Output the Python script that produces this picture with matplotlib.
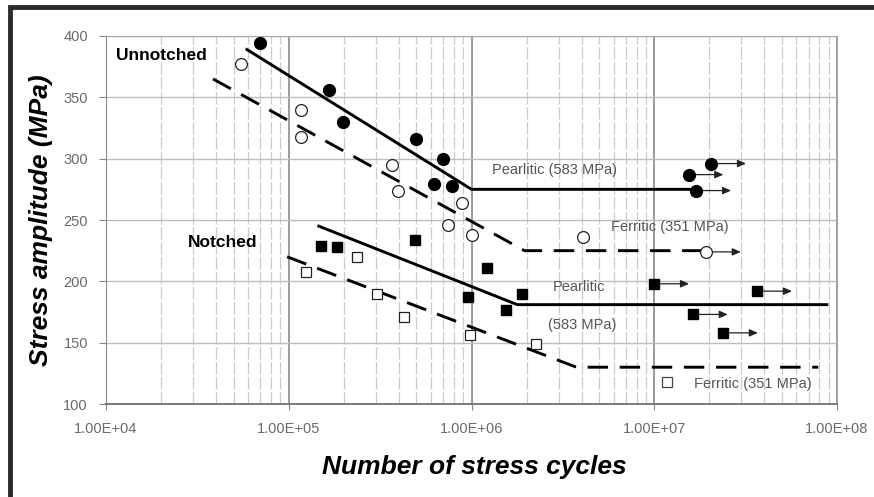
import numpy as np
import matplotlib
matplotlib.use("Agg")
import matplotlib.pyplot as plt
from matplotlib.ticker import FixedLocator, FuncFormatter, LogLocator, NullFormatter
from matplotlib.patches import Rectangle

# ---------------- data ----------------
# Unnotched pearlitic (filled circles)
up_x = [6.95e4, 1.67e5, 1.97e5, 5.0e5, 6.95e5, 6.2e5, 7.8e5]
up_y = [394, 356, 330, 316, 300, 279, 278]
up_run_x = [2.05e7, 1.54e7, 1.7e7]
up_run_y = [296, 287, 274]
# Unnotched ferritic (open circles)
uf_x = [5.5e4, 1.16e5, 1.16e5, 3.66e5, 3.95e5, 8.9e5, 7.4e5, 1.0e6, 4.1e6]
uf_y = [377, 340, 318, 295, 274, 264, 246, 238, 236]
uf_run_x = [1.92e7]
uf_run_y = [224]
# Notched pearlitic (filled squares)
np_x = [1.51e5, 1.83e5, 4.9e5, 1.21e6, 9.6e5, 1.55e6, 1.9e6]
np_y = [229, 228, 234, 211, 187, 177, 190]
np_run_x = [1.0e7, 3.66e7, 1.63e7, 2.38e7]
np_run_y = [198, 192, 173, 158]
# Notched ferritic (open squares)
nf_x = [1.24e5, 2.35e5, 3.03e5, 4.25e5, 9.8e5, 2.26e6]
nf_y = [208, 220, 190, 171, 156, 149]

# fitted curves
up_line_x = [5.9e4, 1.0e6, 1.7e7]
up_line_y = [389, 275, 275]
uf_line_x = [3.85e4, 1.95e6, 1.9e7]
uf_line_y = [365, 225, 225]
np_line_x = [1.46e5, 1.78e6, 8.8e7]
np_line_y = [245, 181, 181]
nf_line_x = [9.8e4, 3.75e6, 7.9e7]
nf_line_y = [220, 130, 130]

x_ticks = [1e4, 1e5, 1e6, 1e7, 1e8]
y_ticks = [100, 150, 200, 250, 300, 350, 400]

# ---------------- figure ----------------
W, H = 874, 497
fig = plt.figure(figsize=(W / 100, H / 100), dpi=100)
fig.patch.set_facecolor("white")

# outer (cropped) chart border: top and left only visible
fig.add_artist(Rectangle((10 / W, -0.2), 1.3, (H - 7) / H + 0.2, transform=fig.transFigure,
                         fill=False, edgecolor="#2b2b2b", linewidth=3.5, zorder=0))

ax = fig.add_axes([106 / W, (H - 404) / H, (837 - 106) / W, (404 - 36) / H])
ax.set_xscale("log")
ax.set_xlim(1e4, 1e8)
ax.set_ylim(100, 400)

# grid
ax.xaxis.set_major_locator(FixedLocator(x_ticks))
ax.xaxis.set_minor_locator(LogLocator(base=10, subs=np.arange(2, 10)))
ax.xaxis.set_minor_formatter(NullFormatter())
ax.yaxis.set_major_locator(FixedLocator(y_ticks))
ax.grid(True, which="major", axis="y", color="#bdbdbd", lw=1.0, zorder=0)
ax.grid(True, which="major", axis="x", color="#8a8a8a", lw=1.2, zorder=0)
ax.grid(True, which="minor", axis="x", color="#cccccc", lw=0.9, linestyle=(0, (10, 2)), zorder=0)

for s in ["top", "right"]:
    ax.spines[s].set_color("#a8a8a8")
ax.spines["left"].set_color("#8a8a8a")
ax.spines["bottom"].set_color("#707070")
ax.spines["bottom"].set_linewidth(1.3)

fmt = FuncFormatter(lambda v, p: "%.2fE+%02d" % (1.0, int(round(np.log10(v)))))
ax.xaxis.set_major_formatter(fmt)
ax.tick_params(axis="x", which="major", length=4, color="#888", labelsize=10.5,
               labelcolor="#6a6a6a", pad=9)
ax.tick_params(axis="x", which="minor", length=0)
ax.tick_params(axis="y", length=5, color="#888", labelsize=10.5, labelcolor="#6a6a6a", pad=8)
for lab in ax.get_xticklabels() + ax.get_yticklabels():
    lab.set_family("Liberation Sans")

# curves
ax.plot(up_line_x, up_line_y, color="black", lw=2.1, zorder=3)
ax.plot(uf_line_x, uf_line_y, color="black", lw=2.1, linestyle=(0, (7, 4)), zorder=3)
ax.plot(np_line_x, np_line_y, color="black", lw=2.1, zorder=3)
ax.plot(nf_line_x, nf_line_y, color="black", lw=2.1, linestyle=(0, (7, 4)), zorder=3)

# run-out arrows
def runouts(xs, ys):
    for x, y in zip(xs, ys):
        ax.annotate("", xy=(x * 1.55, y), xytext=(x, y),
                    arrowprops=dict(arrowstyle="-|>,head_length=0.5,head_width=0.22",
                                    color="#222", lw=0.9, shrinkA=0, shrinkB=0), zorder=4)

runouts(up_run_x, up_run_y)
runouts(uf_run_x, uf_run_y)
runouts(np_run_x, np_run_y)

# markers
ax.plot(up_x + up_run_x, up_y + up_run_y, "o", ms=8.5, color="black", ls="none", zorder=5)
ax.plot(uf_x + uf_run_x, uf_y + uf_run_y, "o", ms=8.5, mfc="white", mec="#222", mew=0.9,
        ls="none", zorder=5)
ax.plot(np_x + np_run_x, np_y + np_run_y, "s", ms=7, color="black", ls="none", zorder=5)
ax.plot(nf_x, nf_y, "s", ms=7.5, mfc="white", mec="#222", mew=0.9, ls="none", zorder=5)

# annotations
bold = dict(family="Liberation Sans", fontweight="bold", fontsize=12.5, color="black")
small = dict(family="Liberation Sans", fontsize=10.5, color="#555555")
ax.text(1.134e4, 384.5, "Unnotched", ha="left", va="center", zorder=6, **bold)
ax.text(2.8e4, 232, "Notched", ha="left", va="center", zorder=6, **bold)
ax.text(2.84e6, 290.7, "Pearlitic (583 MPa)", ha="center", va="center", **small)
ax.text(1.21e7, 244, "Ferritic (351 MPa)", ha="center", va="center", **small)
ax.text(3.89e6, 195, "Pearlitic", ha="center", va="center", **small)
ax.text(4.05e6, 164, "(583 MPa)", ha="center", va="center", **small)
ax.plot([1.18e7], [117.8], "s", ms=7, mfc="white", mec="#444", mew=0.9, zorder=5)
ax.text(3.48e7, 116, "Ferritic (351 MPa)", ha="center", va="center", **small)

# axis titles
title = dict(family="Liberation Sans", fontweight="bold", fontstyle="italic", fontsize=19, color="black")
fig.text(41 / W, 1 - 220 / H, "Stress amplitude (MPa)", rotation=90, ha="center", va="center", **title)
fig.text(474 / W, 1 - 467 / H, "Number of stress cycles", ha="center", va="center", **title)

fig.savefig("out.png", dpi=100, facecolor="white")
